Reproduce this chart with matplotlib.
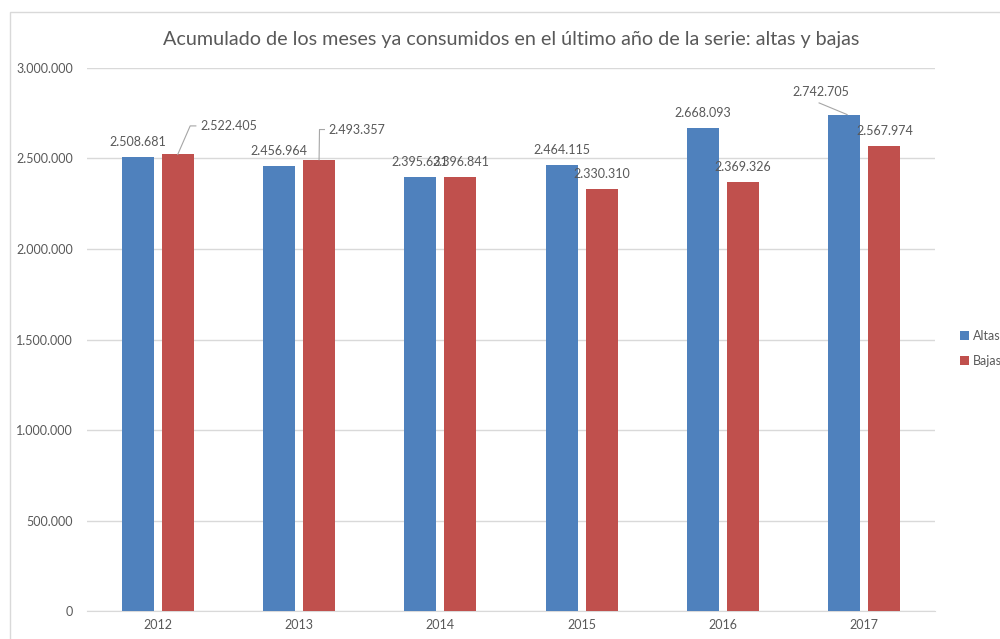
import numpy as np
import matplotlib.pyplot as plt
from matplotlib.patches import Rectangle

plt.rcParams['font.family'] = ['Lato', 'DejaVu Sans']

years = ['2012', '2013', '2014', '2015', '2016', '2017']
altas = [2508681, 2456964, 2395631, 2464115, 2668093, 2742705]
bajas = [2522405, 2493357, 2396841, 2330310, 2369326, 2567974]
yticks = [0, 500000, 1000000, 1500000, 2000000, 2500000, 3000000]

BLUE = '#4F81BD'
RED = '#C0504D'
TXT = '#595959'
LINE = '#A6A6A6'


def fmt(v):
    return f'{v:,}'.replace(',', '.')


fig = plt.figure(figsize=(10, 6.39), dpi=100)
ax = fig.add_axes([0.087, 0.0438, 0.848, 0.8498])

x = np.arange(len(years))
w = 0.227
off = 0.142
ax.bar(x - off, altas, w, color=BLUE, label='Altas', zorder=3)
ax.bar(x + off, bajas, w, color=RED, label='Bajas', zorder=3)

ax.set_xlim(-0.5, len(years) - 0.5)
ax.set_ylim(0, 3000000)
ax.set_yticks(yticks)
ax.set_yticklabels([fmt(v) for v in yticks])
ax.set_xticks(x)
ax.set_xticklabels(years)
ax.tick_params(length=0, colors=TXT, labelsize=9)
ax.tick_params(axis='y', pad=10)
ax.tick_params(axis='x', pad=6)
ax.grid(axis='y', color='#D9D9D9', lw=1, zorder=0)
for s in ['top', 'right', 'left']:
    ax.spines[s].set_visible(False)
ax.spines['bottom'].set_color('#D9D9D9')

# obicne etikete iznad stubova
lab_off = 85000
for i in range(len(years)):
    if i != 5:
        ax.text(x[i] - off, altas[i] + lab_off, fmt(altas[i]), ha='center', va='center',
                fontsize=9, color=TXT, zorder=5)
    if i not in (0, 1):
        ax.text(x[i] + off, bajas[i] + lab_off, fmt(bajas[i]), ha='center', va='center',
                fontsize=9, color=TXT, zorder=5)

# etikete sa linijama
ax.plot([0 + off, 0.23, 0.27], [bajas[0], 2.68e6, 2.68e6], color=LINE, lw=0.8, zorder=4)
ax.text(0.30, 2.68e6, fmt(bajas[0]), ha='left', va='center', fontsize=9, color=TXT)

ax.plot([1 + off, 1.145, 1.18], [bajas[1], 2.66e6, 2.66e6], color=LINE, lw=0.8, zorder=4)
ax.text(1.21, 2.66e6, fmt(bajas[1]), ha='left', va='center', fontsize=9, color=TXT)

ax.plot([5 - off + 0.02, 4.68], [altas[5], 2.807e6], color=LINE, lw=0.8, zorder=4)
ax.text(4.69, 2.87e6, fmt(altas[5]), ha='center', va='center', fontsize=9, color=TXT)

fig.text(0.511, 0.938, 'Acumulado de los meses ya consumidos en el último año de la serie: altas y bajas',
         ha='center', va='center', fontsize=14.2, color=TXT)

leg = fig.legend(loc='center left', bbox_to_anchor=(0.955, 0.455), frameon=False,
                 fontsize=9, handlelength=0.7, handleheight=0.7, handletextpad=0.3,
                 labelspacing=1.0, borderaxespad=0)
for t in leg.get_texts():
    t.set_color(TXT)

fig.patches.append(Rectangle((0.0095, -0.1), 1.2, 1.081, transform=fig.transFigure,
                             fill=False, ec='#D9D9D9', lw=1))

fig.savefig('out.png', dpi=100)
